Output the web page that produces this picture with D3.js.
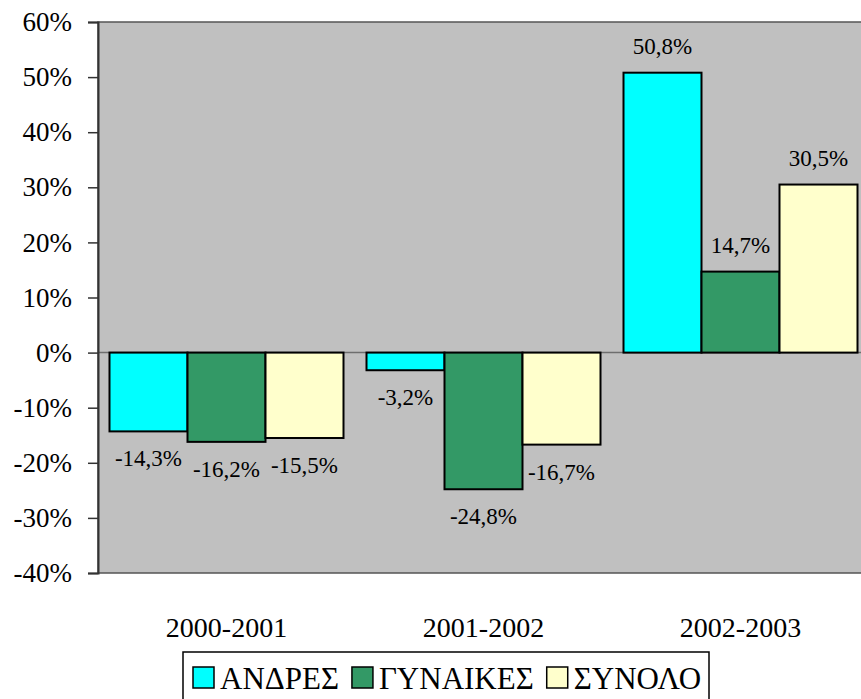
<!DOCTYPE html>
<html>
<head>
<meta charset="utf-8">
<script src="https://cdn.jsdelivr.net/npm/d3@7"></script>
</head>
<body style="margin:0">
<script>
const categories = ["2000-2001", "2001-2002", "2002-2003"];
const seriesNames = ["ΑΝΔΡΕΣ", "ΓΥΝΑΙΚΕΣ", "ΣΥΝΟΛΟ"];
const andres = [-14.3, -3.2, 50.8];
const gynaikes = [-16.2, -24.8, 14.7];
const synolo = [-15.5, -16.7, 30.5];
const yTicks = [-40, -30, -20, -10, 0, 10, 20, 30, 40, 50, 60];
const colors = ["#00ffff", "#339966", "#ffffcc"];

const width = 861, height = 699;
const plot = { left: 98, top: 22, right: 869, bottom: 573 };
const font = "Liberation Serif";

const svg = d3.select("body").append("svg")
  .attr("width", width).attr("height", height)
  .attr("font-family", font)
  .style("font-family", font);

const x0 = d3.scaleBand()
  .domain(categories)
  .range([plot.left, plot.right])
  .paddingInner(23 / 257)
  .paddingOuter(11.5 / 257);

const x1 = d3.scaleBand()
  .domain(seriesNames)
  .range([0, x0.bandwidth()]);

const y = d3.scaleLinear().domain([-40, 60]).range([plot.bottom, plot.top]);

// plot area
svg.append("rect")
  .attr("x", plot.left).attr("y", plot.top)
  .attr("width", plot.right - plot.left).attr("height", plot.bottom - plot.top)
  .attr("fill", "#c0c0c0")
  .attr("stroke", "#555").attr("stroke-width", 1.5);

// zero line
svg.append("line")
  .attr("x1", plot.left).attr("x2", plot.right)
  .attr("y1", y(0)).attr("y2", y(0))
  .attr("stroke", "#6e6e6e").attr("stroke-width", 1.5);

const data = categories.map((c, i) => ({
  cat: c,
  values: [andres[i], gynaikes[i], synolo[i]].map((v, j) => ({ name: seriesNames[j], v, j }))
}));

const groups = svg.append("g").attr("class", "bars")
  .selectAll("g")
  .data(data)
  .join("g")
  .attr("transform", (d) => `translate(${x0(d.cat)},0)`);

groups.selectAll("rect")
  .data((d) => d.values)
  .join("rect")
  .attr("x", (d) => x1(d.name))
  .attr("width", x1.bandwidth())
  .attr("y", (d) => y(Math.max(0, d.v)))
  .attr("height", (d) => Math.abs(y(d.v) - y(0)))
  .attr("fill", (d) => colors[d.j])
  .attr("stroke", "#000").attr("stroke-width", 2);

// data labels, outside the bar end
groups.selectAll("text")
  .data((d) => d.values)
  .join("text")
  .attr("x", (d) => x1(d.name) + x1.bandwidth() / 2)
  .attr("y", (d) => y(d.v) + (d.v < 0 ? 27 : -27))
  .attr("dy", "0.35em")
  .attr("text-anchor", "middle")
  .attr("font-size", 23)
  .attr("fill", "#000")
  .style("font-family", font)
  .text((d) => d.v.toFixed(1).replace(".", ",") + "%");

// y axis
const yAxis = svg.append("g")
  .attr("transform", `translate(${plot.left},0)`)
  .call(d3.axisLeft(y).tickValues(yTicks).tickSize(10).tickPadding(16)
    .tickFormat((d) => d + "%"));
yAxis.attr("font-family", font);
yAxis.select(".domain").attr("stroke", "#333").attr("stroke-width", 2);
yAxis.selectAll(".tick line").attr("stroke", "#333").attr("stroke-width", 1.5);
yAxis.selectAll(".tick text").attr("font-size", 27).attr("fill", "#000")
  .style("font-family", font);

// categories
svg.append("g")
  .selectAll("text")
  .data(categories)
  .join("text")
  .attr("x", (d) => x0(d) + x0.bandwidth() / 2)
  .attr("y", 637)
  .attr("text-anchor", "middle")
  .attr("font-size", 28)
  .attr("fill", "#000")
  .style("font-family", font)
  .text((d) => d);

// legend
const legend = svg.append("g");
legend.append("rect")
  .attr("x", 183).attr("y", 652).attr("width", 526).attr("height", 60)
  .attr("fill", "#fff").attr("stroke", "#000").attr("stroke-width", 1.5);

let lx = 193;
seriesNames.forEach((name, i) => {
  legend.append("rect")
    .attr("x", lx).attr("y", 667).attr("width", 21).attr("height", 21)
    .attr("fill", colors[i]).attr("stroke", "#000").attr("stroke-width", 1.5);
  const t = legend.append("text")
    .attr("x", lx + 27).attr("y", 689)
    .attr("font-size", 31)
    .attr("fill", "#000")
    .style("font-family", font)
    .text(name);
  lx += 27 + t.node().getComputedTextLength() + 13;
});
</script>
</body>
</html>
